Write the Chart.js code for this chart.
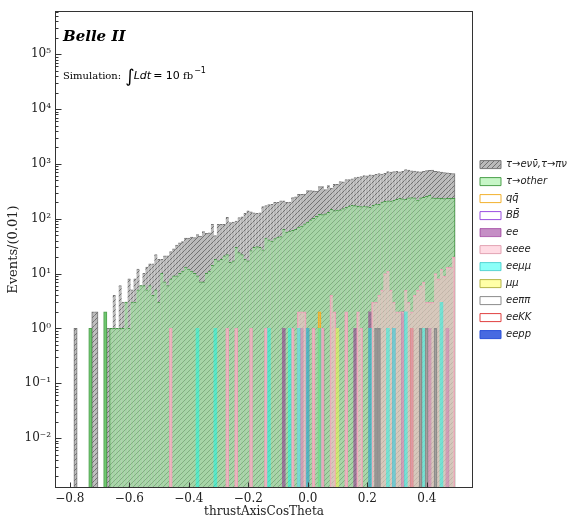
<!DOCTYPE html>
<html>
<head>
<meta charset="utf-8">
<script src="https://cdn.jsdelivr.net/npm/chart.js@4.4.1/dist/chart.umd.min.js"></script>
<style>
  html, body { margin: 0; padding: 0; background: #fff; }
</style>
</head>
<body>
<canvas id="histo" width="568" height="524"></canvas>
<script>
// binning: 0.01 wide bins, first left edge
const BIN_START = -0.786;
const BIN_WIDTH = 0.01;

// tau -> e nu nu, tau -> pi nu (gray, hatched)
const tauLepPi = [
  1, 0, 0, 0, 0, 0, 2, 2, 0, 0,
  0, 1, 1, 4, 1, 6, 3, 3, 8, 5,
  8, 12, 6, 10, 13, 15, 15, 22, 18, 18,
  21, 21, 25, 28, 33, 36, 38, 44, 44, 46,
  45, 51, 48, 58, 54, 55, 79, 49, 79, 79,
  79, 106, 85, 86, 90, 104, 108, 125, 138, 133,
  128, 125, 128, 165, 172, 180, 182, 198, 198, 210,
  210, 198, 200, 243, 250, 276, 276, 280, 326, 326,
  320, 318, 385, 385, 340, 400, 360, 420, 420, 475,
  470, 517, 517, 530, 560, 575, 585, 610, 600, 630,
  625, 640, 660, 650, 670, 720, 705, 720, 730, 715,
  725, 785, 770, 745, 735, 720, 710, 725, 750, 760,
  770, 730, 720, 705, 690, 685, 670, 660
];

// tau -> other (green)
const tauOther = [
  0, 0, 0, 0, 0, 1, 0, 0, 0, 0,
  2, 0, 1, 1, 1, 1, 1, 3, 1, 3,
  3, 5, 6, 6, 5, 6, 4, 5, 3, 10,
  7, 6, 8, 9, 9, 10, 11, 13, 12, 11,
  10, 9, 7, 7, 10, 11, 14, 18, 17, 18,
  21, 22, 16, 17, 30, 24, 22, 18, 17, 26,
  30, 31, 30, 27, 44, 41, 39, 43, 46, 47,
  64, 57, 59, 61, 64, 70, 73, 80, 86, 95,
  101, 110, 120, 118, 122, 130, 148, 140, 143, 145,
  152, 160, 170, 175, 172, 168, 165, 170, 165, 160,
  175, 185, 183, 200, 207, 210, 208, 215, 225, 234,
  230, 225, 240, 243, 240, 218, 240, 245, 255, 265,
  240, 238, 236, 235, 232, 234, 234, 234
];

// small backgrounds: bin index + count
const qqBins = [82, 113];
const qqCounts = [2, 1];
const bbBins = [];
const bbCounts = [];
const eeBins = [70, 76, 78, 83, 94, 99, 107, 110, 113, 119, 125];
const eeCounts = [1, 1, 1, 1, 1, 2, 1, 2, 1, 1, 1];
const eeeeBins = [32, 51, 54, 59, 64, 73, 75, 76, 77, 80, 83, 86, 87, 91, 95, 96, 100, 101, 102, 103,
  104, 105, 106, 107, 108, 109, 110, 111, 112, 113, 114, 115, 116, 117, 118, 119, 120, 121, 122, 123,
  124, 125, 126, 127];
const eeeeCounts = [1, 1, 1, 1, 1, 1, 2, 2, 2, 1, 1, 4, 2, 2, 2, 1, 3, 3, 4, 5,
  10, 11, 5, 3, 2, 2, 2, 5, 3, 2, 4, 5, 6, 7, 3, 3, 3, 10, 8, 12,
  9, 13, 13, 20];
const eemumuBins = [41, 47, 65, 72, 75, 78, 82, 99, 105, 107, 111, 117, 123];
const eemumuCounts = [1, 1, 1, 1, 1, 1, 1, 1, 1, 1, 2, 1, 3];
const mumuBins = [88];
const mumuCounts = [1];
const eepipiBins = [101, 102, 116, 118, 121];
const eepipiCounts = [1, 1, 1, 1, 1];
const eeKKBins = [];
const eeKKCounts = [];
const eeppBins = [];
const eeppCounts = [];

const xTickValues = [-0.8, -0.6, -0.4, -0.2, 0.0, 0.2, 0.4];
const yTickExponents = [-2, -1, 0, 1, 2, 3, 4, 5];

const centers = tauLepPi.map((_, i) => +(BIN_START + BIN_WIDTH * (i + 0.5)).toFixed(4));

function toPoints(values) {
  return values.map((v, i) => ({ x: centers[i], y: v, bin: i })).filter(p => p.y > 0);
}
function sparse(bins, counts) {
  return bins.map((b, i) => ({ x: centers[b], y: counts[i], bin: b }));
}

// diagonal "////" hatch like matplotlib
function makeHatch(bg, line) {
  const c = document.createElement('canvas');
  c.width = 5; c.height = 5;
  const g = c.getContext('2d');
  g.fillStyle = bg;
  g.fillRect(0, 0, 5, 5);
  g.strokeStyle = line;
  g.lineWidth = 1;
  g.beginPath();
  g.moveTo(-1, 6); g.lineTo(6, -1);
  g.moveTo(-1, 1); g.lineTo(1, -1);
  g.moveTo(4, 6); g.lineTo(6, 4);
  g.stroke();
  return g.createPattern(c, 'repeat');
}

// step-outline look: side edges only where the neighbouring bin is empty
function edgeWidth(values) {
  return c => {
    if (!c.raw) return 1;
    const b = c.raw.bin;
    return { top: 1, bottom: 0, left: values[b - 1] ? 0 : 1, right: values[b + 1] ? 0 : 1 };
  };
}

const SUP = { '-': '\u207B', '0': '\u2070', '1': '\u00B9', '2': '\u00B2', '3': '\u00B3', '4': '\u2074', '5': '\u2075' };
const powLabel = e => '10' + String(e).split('').map(ch => SUP[ch]).join('');

const grayHatch = makeHatch('#bababa', '#717171');
const greenOnGray = makeHatch('#a6d5a6', '#81b081');
const greenPlain = 'rgba(144, 238, 144, 0.5)';

const datasets = [
  { label: '\u03C4\u2192e\u03BD\u03BD\u0304,\u03C4\u2192\u03C0\u03BD', data: toPoints(tauLepPi),
    backgroundColor: grayHatch, borderColor: '#777777', borderWidth: edgeWidth(tauLepPi),
    inflateAmount: 0.5, order: 10 },
  // green drawn over the gray hatch (pre-blended so neighbouring bins show no seams)
  { label: '\u03C4\u2192other', data: toPoints(tauOther),
    backgroundColor: c => (c.raw && !tauLepPi[c.raw.bin]) ? greenPlain : greenOnGray,
    borderColor: 'rgba(60, 150, 60, 0.9)', borderWidth: edgeWidth(tauOther),
    inflateAmount: 0.5, order: 9, legendFill: greenPlain },
  { label: 'qq\u0304', data: sparse(qqBins, qqCounts),
    backgroundColor: 'rgba(255,255,255,0)', borderColor: '#f2b12e', borderWidth: 1, order: 8 },
  { label: 'BB\u0304', data: sparse(bbBins, bbCounts),
    backgroundColor: 'rgba(255,255,255,0)', borderColor: '#9a4ee0', borderWidth: 1, order: 7 },
  { label: 'ee', data: sparse(eeBins, eeCounts),
    backgroundColor: 'rgba(140, 30, 140, 0.5)', borderColor: 'rgba(140, 30, 140, 0.6)', borderWidth: 0, order: 6 },
  { label: 'eeee', data: sparse(eeeeBins, eeeeCounts),
    backgroundColor: 'rgba(255, 190, 205, 0.55)', borderColor: '#e3a3b3', borderWidth: edgeWidth([]), order: 5 },
  { label: 'ee\u03BC\u03BC', data: sparse(eemumuBins, eemumuCounts),
    backgroundColor: 'rgba(0, 255, 240, 0.45)', borderColor: 'rgba(60, 200, 200, 0.8)', borderWidth: 0, order: 4 },
  { label: '\u03BC\u03BC', data: sparse(mumuBins, mumuCounts),
    backgroundColor: 'rgba(255, 255, 60, 0.45)', borderColor: '#b5b54a', borderWidth: 0, order: 3 },
  { label: 'ee\u03C0\u03C0', data: sparse(eepipiBins, eepipiCounts),
    backgroundColor: 'rgba(255,255,255,0)', borderColor: '#8c8c8c', borderWidth: 1, order: 2 },
  { label: 'eeKK', data: sparse(eeKKBins, eeKKCounts),
    backgroundColor: 'rgba(255,255,255,0)', borderColor: '#e04040', borderWidth: 1, order: 1 },
  { label: 'eepp', data: sparse(eeppBins, eeppCounts),
    backgroundColor: 'rgba(40, 80, 220, 0.85)', borderColor: '#2a50d8', borderWidth: 1, order: 0 }
];
// the pink one is dense on the right: keep side edges only for isolated bins
const eeeeFull = new Array(tauLepPi.length).fill(0);
eeeeBins.forEach((b, i) => { eeeeFull[b] = eeeeCounts[i]; });
datasets[5].borderWidth = edgeWidth(eeeeFull);

// frame, inward ticks and the Belle II labels
const decorations = {
  id: 'decorations',
  afterDraw(chart) {
    const { ctx, chartArea: a, scales: { x, y } } = chart;
    const L = Math.round(a.left) + 0.5, R = Math.round(a.right) - 0.5;
    const T = Math.round(a.top) + 0.5, B = Math.round(a.bottom) - 0.5;
    ctx.save();
    ctx.strokeStyle = '#333';
    ctx.lineWidth = 1;
    ctx.strokeRect(L, T, R - L, B - T);

    ctx.beginPath();
    for (let n = -3; n <= 5; n++) {
      for (let m = 1; m <= 9; m++) {
        const v = m * Math.pow(10, n);
        if (v < y.min || v > y.max) continue;
        const py = Math.round(y.getPixelForValue(v)) + 0.5;
        ctx.moveTo(L, py);
        ctx.lineTo(L + (m === 1 ? 6 : 3), py);
      }
    }
    xTickValues.forEach(v => {
      const px = Math.round(x.getPixelForValue(v)) + 0.5;
      ctx.moveTo(px, B);
      ctx.lineTo(px, B - 5);
    });
    ctx.stroke();

    ctx.fillStyle = '#000';
    ctx.textBaseline = 'alphabetic';
    ctx.font = 'bold italic 15px "DejaVu Serif"';
    ctx.fillText('Belle II', a.left + 8, a.top + 30);

    let cx = a.left + 8;
    const by = a.top + 68;
    ctx.font = '10px "DejaVu Serif"';
    ctx.fillText('Simulation: ', cx, by);
    cx += ctx.measureText('Simulation: ').width + 1;
    ctx.font = '18px "DejaVu Sans"';
    ctx.fillText('\u222B', cx, by + 3);
    cx += ctx.measureText('\u222B').width - 1;
    ctx.font = 'italic 11px "DejaVu Sans"';
    ctx.fillText('Ldt', cx, by);
    cx += ctx.measureText('Ldt').width + 2;
    ctx.font = '11px "DejaVu Sans"';
    ctx.fillText('= 10', cx, by);
    cx += ctx.measureText('= 10').width;
    ctx.font = '10px "DejaVu Serif"';
    ctx.fillText(' fb', cx, by);
    cx += ctx.measureText(' fb').width;
    ctx.font = '8px "DejaVu Sans"';
    ctx.fillText('\u22121', cx + 1, by - 6);
    ctx.restore();
  }
};

new Chart(document.getElementById('histo'), {
  type: 'bar',
  data: { datasets },
  options: {
    responsive: false,
    animation: false,
    devicePixelRatio: 1,
    events: [],
    grouped: false,
    categoryPercentage: 1,
    barPercentage: 1,
    layout: { padding: { top: 7, right: 0, bottom: 0, left: 0 } },
    plugins: {
      tooltip: { enabled: false },
      legend: {
        position: 'right',
        fullSize: false,
        maxWidth: 95,
        reverse: true,
        labels: {
          boxWidth: 21,
          boxHeight: 8,
          padding: 7,
          color: '#222',
          font: { family: 'DejaVu Sans', size: 10, style: 'italic' },
          generateLabels(chart) {
            const items = Chart.defaults.plugins.legend.labels.generateLabels(chart);
            items.forEach(it => {
              const ds = chart.data.datasets[it.datasetIndex];
              it.lineWidth = 1;
              it.strokeStyle = ds.borderColor;
              if (ds.legendFill) it.fillStyle = ds.legendFill;
            });
            return items;
          }
        }
      }
    },
    scales: {
      x: {
        type: 'linear',
        min: -0.85,
        max: 0.555,
        offset: false,
        grid: { display: false, drawTicks: false, offset: false },
        border: { display: false },
        afterFit(scale) { scale.height = 36; },
        afterBuildTicks(scale) { scale.ticks = xTickValues.map(v => ({ value: v })); },
        ticks: {
          autoSkip: false,
          maxRotation: 0,
          padding: 4,
          color: '#222',
          font: { family: 'DejaVu Serif', size: 12 },
          callback: v => (v < -1e-9 ? '\u2212' : '') + Math.abs(v).toFixed(1)
        },
        title: {
          display: true,
          text: 'thrustAxisCosTheta',
          color: '#222',
          font: { family: 'DejaVu Serif', size: 12 },
          padding: { top: 0, bottom: 5 }
        }
      },
      y: {
        type: 'logarithmic',
        min: 1.227e-3,
        max: 6.12e5,
        grid: { display: false, drawTicks: false },
        border: { display: false },
        afterFit(scale) { scale.width = 55; },
        afterBuildTicks(scale) { scale.ticks = yTickExponents.map(e => ({ value: Math.pow(10, e) })); },
        ticks: {
          autoSkip: false,
          padding: 4,
          color: '#222',
          font: { family: 'DejaVu Serif', size: 12 },
          callback: v => powLabel(Math.round(Math.log10(v)))
        },
        title: {
          display: true,
          text: 'Events/(0.01)',
          color: '#222',
          font: { family: 'DejaVu Serif', size: 13 },
          padding: { top: 6, bottom: 0 }
        }
      }
    }
  },
  plugins: [decorations]
});
</script>
</body>
</html>
